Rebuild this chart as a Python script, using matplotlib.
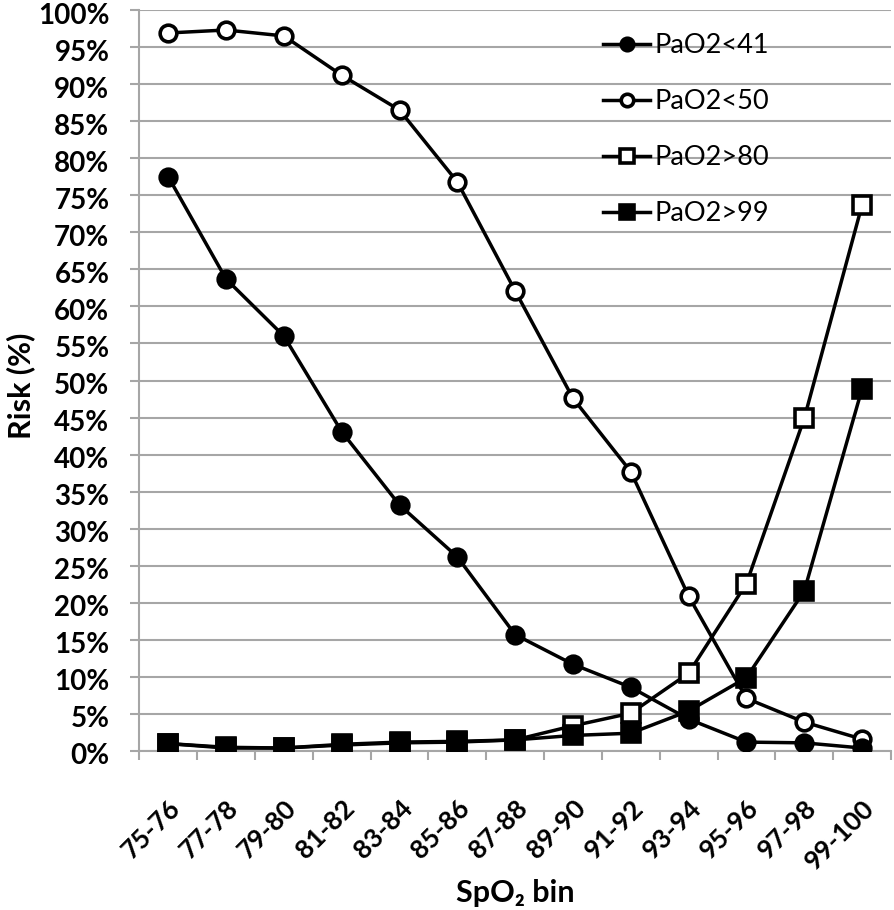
import matplotlib
matplotlib.use("Agg")
import matplotlib.pyplot as plt
import matplotlib.transforms as mtransforms
import numpy as np
from matplotlib.ticker import MultipleLocator, FuncFormatter

bins = ["75-76", "77-78", "79-80", "81-82", "83-84", "85-86", "87-88",
        "89-90", "91-92", "93-94", "95-96", "97-98", "99-100"]

pao2_lt41 = [77.5, 63.7, 56.0, 43.1, 33.2, 26.2, 15.7, 11.7, 8.6, 4.3, 1.2, 1.1, 0.4]
pao2_lt50 = [96.9, 97.3, 96.5, 91.2, 86.5, 76.8, 62.1, 47.6, 37.7, 20.9, 7.1, 3.9, 1.6]
pao2_gt80 = [1.0, 0.5, 0.4, 0.9, 1.2, 1.3, 1.5, 3.4, 5.1, 10.5, 22.6, 44.9, 73.7]
pao2_gt99 = [1.0, 0.4, 0.4, 0.8, 1.1, 1.2, 1.5, 2.1, 2.4, 5.4, 9.9, 21.6, 48.9]

# label, values, marker, face colour, drawing order
series = [
    ("PaO2<41", pao2_lt41, "o", "black", 13),
    ("PaO2<50", pao2_lt50, "o", "white", 12),
    ("PaO2>80", pao2_gt80, "s", "white", 10),
    ("PaO2>99", pao2_gt99, "s", "black", 11),
]

plt.rcParams['font.family'] = ['Lato', 'DejaVu Sans']
GRID = "#a6a6a6"
W, H = 894, 910

fig = plt.figure(figsize=(W / 100, H / 100), dpi=100)
ax = fig.add_axes([139.3 / W, 1 - 751 / H, (891 - 139.3) / W, (751 - 10) / H])

x = np.arange(len(bins))
for label, vals, marker, face, z in series:
    ms = 12 if marker == "o" else 12.5
    ax.plot(x, vals, color="black", lw=2.5, marker=marker, markersize=ms,
            markerfacecolor=face, markeredgecolor="black", markeredgewidth=2.6,
            label=label, zorder=z)

ax.set_xlim(-0.5, len(bins) - 0.5)
ax.set_ylim(0, 100)
ax.yaxis.set_major_locator(MultipleLocator(5))
ax.yaxis.set_major_formatter(FuncFormatter(lambda v, p: f"{v:.0f}%"))
ax.grid(axis="y", color=GRID, lw=1.5, zorder=0)
ax.set_axisbelow(True)

ax.set_xticks(x)
ax.set_xticklabels(bins, rotation=45, ha="right", va="top",
                   rotation_mode="anchor", fontsize=19, fontweight="bold")
xshift = mtransforms.ScaledTranslation(7 / 100, 0, fig.dpi_scale_trans)
for t in ax.get_xticklabels():
    t.set_transform(t.get_transform() + xshift)
ax.set_xticks(np.arange(len(bins) + 1) - 0.5, minor=True)
ax.tick_params(axis="x", which="major", length=0, pad=32)
ax.tick_params(axis="x", which="minor", length=6.5, width=1.5, color=GRID)
ax.tick_params(axis="y", length=6.5, width=1.5, color=GRID, pad=15)
yshift = mtransforms.ScaledTranslation(0, -3 / 100, fig.dpi_scale_trans)
for t in ax.get_yticklabels():
    t.set_fontweight("bold")
    t.set_fontsize(20)
    t.set_transform(t.get_transform() + yshift)

for s in ["top", "right"]:
    ax.spines[s].set_visible(False)
for s in ["left", "bottom"]:
    ax.spines[s].set_color(GRID)
    ax.spines[s].set_linewidth(1.5)

fig.text(21 / W, 1 - 386 / H, "Risk (%)", rotation=90, ha="center", va="center",
         fontsize=22, fontweight="bold")
fig.text(515 / W, 1 - 902 / H, "SpO₂ bin", ha="center", va="baseline",
         fontsize=22, fontweight="bold")

leg = ax.legend(loc="upper left", bbox_to_anchor=(603 / W, 1 - 33 / H),
                bbox_transform=fig.transFigure, frameon=False,
                fontsize=19.5, handlelength=1.74, handletextpad=0.15,
                labelspacing=1.15, markerscale=0.75, borderpad=0,
                borderaxespad=0)

fig.savefig("out.png", dpi=100)
